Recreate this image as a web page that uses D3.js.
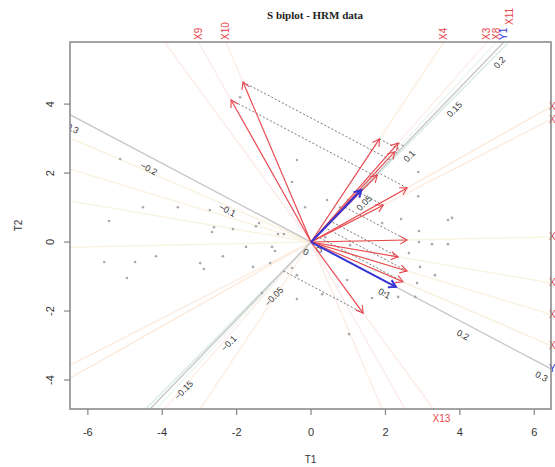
<!DOCTYPE html>
<html>
<head>
<meta charset="utf-8">
<script src="https://cdn.jsdelivr.net/npm/d3@7"></script>
<style>
  body { margin: 0; background: #fff; }
  svg { display: block; font-family: "Liberation Sans", Arial, sans-serif; }
</style>
</head>
<body>
<svg id="drawing_region"></svg>
<script>
// X variables (red arrows), coordinates on T1 / T2
const varNames = ["X1", "X2", "X3", "X4", "X5", "X6", "X7", "X8", "X9", "X10", "X11", "X12", "X13"];
const varT1 = [2.58, 1.94, 2.34, 1.84, 2.58, 2.34, 2.58, 2.25, -2.15, -1.83, 1.78, 2.47, 1.40];
const varT2 = [1.57, 1.07, 2.87, 2.99, 0.06, -0.43, -0.84, 2.62, 4.12, 4.64, 1.94, -1.15, -2.06];

// Y responses (blue arrows) and their calibrated axes
const respNames = ["Y1", "Y2"];
const respT1 = [1.35, 2.28];
const respT2 = [1.51, -1.30];
const respCal = [36.4, 24.3];            // T units per unit of response
const y1Ticks = [-0.2, -0.15, -0.1, -0.05, 0, 0.05, 0.1, 0.15, 0.2];
const y2Ticks = [-0.3, -0.2, -0.1, 0, 0.1, 0.2, 0.3];

// observations
const obsT1 = [-5.13, -4.52, -3.58, -2.72, -5.43, -2.61, -2.10, -2.66, -1.48, -1.40, -0.89, -0.73,
  -0.38, -0.51, -0.16, -1.75, -1.05, -0.97, -5.56, -4.73, -4.17, -2.98, -2.88, -2.37, -1.56, -4.95,
  -1.10, -0.51, -0.38, -0.38, -1.91, 2.88, 2.88, 2.42, 3.68, 3.79, 2.90, 2.90, 3.25, 3.68, 2.63,
  3.33, 2.34, 2.80, 0.30, 1.64, 1.02, 0.43, 0.99, 1.91, 0.78, 1.05, 0.38, 2.93, 2.85, 0.97, 1.99, -1.32];
const obsT2 = [2.41, 1.01, 1.01, 0.93, 0.61, 0.43, 0.38, 0.29, 0.46, 0.55, 0.23, 0.23,
  2.38, 1.74, 1.01, -0.14, -0.14, -0.26, -0.58, -0.58, -0.41, -0.61, -0.78, -0.41, -0.72, -1.04,
  -0.61, -0.75, -0.96, -1.65, 4.20, 2.03, 1.33, 0.67, 0.64, 0.70, 0.32, 0.00, -0.06, -0.06, -0.32,
  -0.96, -1.59, -1.59, -1.51, -1.62, -2.67, 1.22, 1.22, 0.55, 1.01, -0.09, 0.14, -0.72, -1.19, -1.10, -1.48, -1.48];

const xTicks = [-6, -4, -2, 0, 2, 4, 6];
const yTicks = [-4, -2, 0, 2, 4];

const axisColors = ["#fcebdc", "#fcede2", "#fdf0ec", "#fcefe4", "#f9f4e0", "#f9f4e2", "#f9f3e0",
  "#eef6f2", "#fcecec", "#fcede8", "#d9ece5", "#f8f2de", "#fcede9"];

const W = 555, H = 467;
const box = {left: 70, right: 551, top: 42, bottom: 409};

const svg = d3.select('#drawing_region').attr('width', W).attr('height', H);

const xscale = d3.scaleLinear().domain([-6.48, 6.45]).range([box.left, box.right]);
const yscale = d3.scaleLinear().domain([-4.84, 5.8]).range([box.bottom, box.top]);
const [xmin, xmax] = xscale.domain();
const [ymin, ymax] = yscale.domain();

svg.append('defs').append('clipPath').attr('id', 'plotclip')
  .append('rect')
  .attr('x', box.left).attr('y', box.top)
  .attr('width', box.right - box.left).attr('height', box.bottom - box.top);

const plot = svg.append('g').attr('clip-path', 'url(#plotclip)');

// how far along direction (a,b) until the plot edge is hit
function edgeT(a, b) {
  let ts = [];
  if (a > 0) ts.push(xmax / a); if (a < 0) ts.push(xmin / a);
  if (b > 0) ts.push(ymax / b); if (b < 0) ts.push(ymin / b);
  return d3.min(ts);
}

// faint variable axes through the origin
varNames.forEach((n, i) => {
  const a = varT1[i], b = varT2[i];
  const tp = edgeT(a, b), tn = edgeT(-a, -b);
  plot.append('line')
    .attr('x1', xscale(-a * tn)).attr('y1', yscale(-b * tn))
    .attr('x2', xscale(a * tp)).attr('y2', yscale(b * tp))
    .attr('stroke', axisColors[i]).attr('stroke-width', 1.5);
});

// calibrated response axes
const respTicks = [y1Ticks, y2Ticks];
const units = respNames.map((n, j) => {
  const len = Math.hypot(respT1[j], respT2[j]);
  return [respT1[j] / len, respT2[j] / len];
});

respNames.forEach((n, j) => {
  const [ux, uy] = units[j];
  const tp = edgeT(ux, uy), tn = edgeT(-ux, -uy);
  plot.append('line')
    .attr('x1', xscale(-ux * tn)).attr('y1', yscale(-uy * tn))
    .attr('x2', xscale(ux * tp)).attr('y2', yscale(uy * tp))
    .attr('stroke', '#c8c8c8').attr('stroke-width', 1.4);

  // screen direction and label offset
  const sx = xscale(ux) - xscale(0), sy = yscale(uy) - yscale(0);
  const sl = Math.hypot(sx, sy);
  const dx = sx / sl, dy = sy / sl;
  const ang = Math.atan2(dy, dx) * 180 / Math.PI;
  const off = 11;

  plot.selectAll(null)
    .data(respTicks[j])
    .join('text')
    .attr('transform', v => {
      const px = xscale(ux * v * respCal[j]) - dy * off;
      const py = yscale(uy * v * respCal[j]) + dx * off;
      return `translate(${px},${py}) rotate(${ang})`;
    })
    .attr('text-anchor', 'middle')
    .attr('dy', '0.35em')
    .style('font-size', '9px')
    .attr('fill', '#333')
    .text(v => d3.format('~g')(v));
});

// dashed projections of X tips (along Y2 direction) onto the Y1 axis
const [u1x, u1y] = units[0], [u2x, u2y] = units[1];
const det = -u1x * u2y + u2x * u1y;
varNames.forEach((n, i) => {
  const px = varT1[i], py = varT2[i];
  const t = (-px * u2y + u2x * py) / det;
  plot.append('line')
    .attr('x1', xscale(px)).attr('y1', yscale(py))
    .attr('x2', xscale(t * u1x)).attr('y2', yscale(t * u1y))
    .attr('stroke', '#555').attr('stroke-width', 0.8)
    .attr('stroke-dasharray', '2,2');
});

// observations
plot.selectAll('circle.obs')
  .data(obsT1.map((v, i) => [v, obsT2[i]]))
  .join('circle')
  .attr('class', 'obs')
  .attr('cx', d => xscale(d[0]))
  .attr('cy', d => yscale(d[1]))
  .attr('r', 1.3)
  .attr('fill', '#a8a8a8');

// arrows
function arrow(a, b, color, width) {
  const x0 = xscale(0), y0 = yscale(0);
  const x1 = xscale(a), y1 = yscale(b);
  const th = Math.atan2(y1 - y0, x1 - x0);
  const hl = 8, ha = Math.PI / 6;
  plot.append('line')
    .attr('x1', x0).attr('y1', y0).attr('x2', x1).attr('y2', y1)
    .attr('stroke', color).attr('stroke-width', width);
  plot.append('path')
    .attr('d', `M${x1 - hl * Math.cos(th - ha)},${y1 - hl * Math.sin(th - ha)}L${x1},${y1}L${x1 - hl * Math.cos(th + ha)},${y1 - hl * Math.sin(th + ha)}`)
    .attr('fill', 'none').attr('stroke', color).attr('stroke-width', width);
}
varNames.forEach((n, i) => arrow(varT1[i], varT2[i], '#e8454e', 1.1));
respNames.forEach((n, j) => arrow(respT1[j], respT2[j], '#3535d8', 2));

// axis end labels
const endLabels = [];
varNames.forEach((n, i) => endLabels.push({name: n, a: varT1[i], b: varT2[i], color: '#e8454e'}));
respNames.forEach((n, j) => endLabels.push({name: n, a: respT1[j], b: respT2[j], color: '#3535d8'}));
endLabels.forEach(d => {
  const t = edgeT(d.a, d.b);
  d.ex = d.a * t; d.ey = d.b * t;
  d.px = xscale(d.ex); d.py = yscale(d.ey);
  d.side = Math.abs(d.ey - ymax) < 1e-6 ? 'top' : Math.abs(d.ey - ymin) < 1e-6 ? 'bottom'
    : Math.abs(d.ex - xmax) < 1e-6 ? 'right' : 'left';
});

const topLabels = endLabels.filter(d => d.side === 'top').sort((p, q) => p.px - q.px);
let prev = null;
topLabels.forEach(d => {
  d.lift = 0;
  if (prev && d.px - prev.px < 7) d.lift = prev.lift + 15;
  prev = d;
  svg.append('text')
    .attr('transform', `translate(${d.px + 3.5},${box.top - 2 - d.lift}) rotate(-90)`)
    .attr('text-anchor', 'start')
    .style('font-size', '10px')
    .attr('fill', d.color)
    .text(d.name);
});
endLabels.filter(d => d.side === 'right').forEach(d => {
  svg.append('text')
    .attr('x', box.right - 2).attr('y', d.py + 3.5)
    .style('font-size', '10px')
    .attr('fill', d.color)
    .text(d.name);
});
endLabels.filter(d => d.side === 'bottom').forEach(d => {
  svg.append('text')
    .attr('x', d.px + 8).attr('y', box.bottom + 13)
    .attr('text-anchor', 'middle')
    .style('font-size', '10px')
    .attr('fill', d.color)
    .text(d.name);
});

// frame and axes
svg.append('rect')
  .attr('x', box.left).attr('y', box.top)
  .attr('width', box.right - box.left).attr('height', box.bottom - box.top)
  .attr('fill', 'none').attr('stroke', '#858585').attr('stroke-width', 1.5);

const xaxis = svg.append('g');
xaxis.selectAll('line').data(xTicks).join('line')
  .attr('x1', d => xscale(d)).attr('x2', d => xscale(d))
  .attr('y1', box.bottom).attr('y2', box.bottom + 6)
  .attr('stroke', '#858585').attr('stroke-width', 1.2);
xaxis.selectAll('text').data(xTicks).join('text')
  .attr('x', d => xscale(d)).attr('y', box.bottom + 27)
  .attr('text-anchor', 'middle')
  .style('font-size', '11px').attr('fill', '#333')
  .text(d => d);

const yaxis = svg.append('g');
yaxis.selectAll('line').data(yTicks).join('line')
  .attr('y1', d => yscale(d)).attr('y2', d => yscale(d))
  .attr('x1', box.left).attr('x2', box.left - 6)
  .attr('stroke', '#858585').attr('stroke-width', 1.2);
yaxis.selectAll('text').data(yTicks).join('text')
  .attr('transform', d => `translate(${box.left - 16},${yscale(d)}) rotate(-90)`)
  .attr('text-anchor', 'middle')
  .style('font-size', '11px').attr('fill', '#333')
  .text(d => d);

svg.append('text')
  .attr('x', (box.left + box.right) / 2).attr('y', 463)
  .attr('text-anchor', 'middle')
  .style('font-size', '10px').attr('fill', '#333')
  .text('T1');

svg.append('text')
  .attr('transform', `translate(22,${(box.top + box.bottom) / 2}) rotate(-90)`)
  .attr('text-anchor', 'middle')
  .style('font-size', '10px').attr('fill', '#333')
  .text('T2');

svg.append('text')
  .attr('x', 315).attr('y', 19)
  .attr('text-anchor', 'middle')
  .style('font-family', '"Liberation Serif", "Times New Roman", serif')
  .style('font-size', '11px')
  .style('font-weight', 'bold')
  .attr('fill', '#222')
  .text('S biplot - HRM data');
</script>
</body>
</html>
